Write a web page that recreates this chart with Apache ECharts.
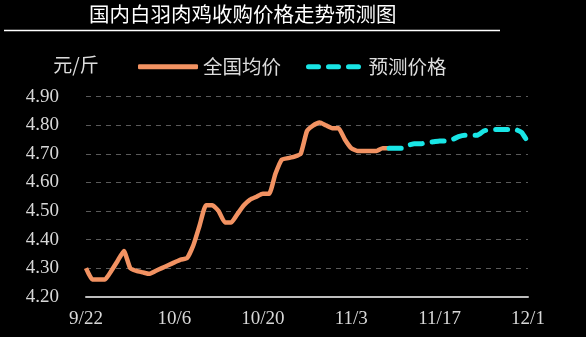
<!DOCTYPE html>
<html>
<head>
<meta charset="utf-8">
<script src="https://cdn.jsdelivr.net/npm/echarts@6/dist/echarts.min.js"></script>
<style>html,body{margin:0;padding:0;background:#000}#c{width:586px;height:337px}</style>
</head>
<body>
<div id="c"></div>
<script>
var categories = ["9/22","9/23","9/24","9/25","9/26","9/27","9/28","9/29","9/30",
"10/1","10/2","10/3","10/4","10/5","10/6","10/7","10/8","10/9","10/10","10/11","10/12","10/13","10/14","10/15","10/16","10/17","10/18","10/19","10/20","10/21","10/22","10/23","10/24","10/25","10/26","10/27","10/28","10/29","10/30","10/31",
"11/1","11/2","11/3","11/4","11/5","11/6","11/7","11/8","11/9","11/10","11/11","11/12","11/13","11/14","11/15","11/16","11/17","11/18","11/19","11/20","11/21","11/22","11/23","11/24","11/25","11/26","11/27","11/28","11/29","11/30","12/1"];
var actualValues = [4.30,4.26,4.26,4.26,4.29,4.325,4.36,4.30,4.29,4.285,4.28,4.29,4.30,4.31,4.32,4.33,4.335,4.38,4.45,4.52,4.52,4.50,4.46,4.46,4.49,4.52,4.54,4.55,4.56,4.56,4.63,4.68,4.685,4.69,4.70,4.78,4.80,4.81,4.80,4.79,4.79,4.75,4.72,4.71,4.71,4.71,4.71,4.72,4.72];
var forecastValues = [4.72,4.72,4.72,4.73,4.735,4.735,4.74,4.742,4.745,4.745,4.75,4.76,4.765,4.765,4.765,4.78,4.785,4.785,4.785,4.785,4.785,4.775,4.74];
var seriesNames = ["全国均价","预测价格"];
var titleText = "国内白羽肉鸡收购价格走势预测图";
var unitText = "元/斤";

var actualData = categories.map(function(c,i){ return i < actualValues.length ? actualValues[i] : null; });
var offset = categories.length - forecastValues.length;
var forecastData = categories.map(function(c,i){ return i >= offset ? forecastValues[i-offset] : null; });

var chart = echarts.init(document.getElementById('c'));
var serif = '"Liberation Serif", "DejaVu Serif", serif';
var cjk = '"Noto Sans CJK SC", sans-serif';
var dashIcon = 'path://M2.5,0h10a2.5,2.5 0 0 1 0,5h-10a2.5,2.5 0 0 1 0,-5z M22.5,0h10a2.5,2.5 0 0 1 0,5h-10a2.5,2.5 0 0 1 0,-5z M42.5,0h10a2.5,2.5 0 0 1 0,5h-10a2.5,2.5 0 0 1 0,-5z';
chart.setOption({
  backgroundColor: '#000',
  animation: false,
  title: {
    text: titleText, left: 84, top: -1,
    textStyle: {color: '#fff', fontSize: 20.5, fontWeight: 'normal', fontFamily: cjk}
  },
  graphic: [{
    type: 'line', shape: {x1: 4, y1: 30.5, x2: 500, y2: 30.5},
    style: {stroke: '#fff', lineWidth: 1.5}
  }],
  legend: {
    left: 133, top: 52, itemWidth: 60, itemHeight: 5, itemGap: 25,
    textStyle: {color: '#ddd', fontSize: 19.5, fontFamily: cjk},
    data: [
      {name: seriesNames[0], icon: 'roundRect'},
      {name: seriesNames[1], icon: dashIcon}
    ]
  },
  grid: {left: 86, right: 58, top: 96.7, bottom: 40.3, containLabel: false},
  xAxis: {
    type: 'category', data: categories, boundaryGap: false,
    axisLine: {lineStyle: {color: '#bdbdbd', width: 2}},
    axisTick: {show: false},
    axisLabel: {interval: 13, color: '#d8d8d8', fontSize: 19, fontFamily: serif, margin: 13},
    splitLine: {show: false}
  },
  yAxis: {
    type: 'value', min: 4.2, max: 4.9, interval: 0.1,
    name: unitText, nameLocation: 'end', nameGap: 22,
    nameTextStyle: {color: '#ddd', fontSize: 19, fontFamily: cjk, padding: [0, 20, 0, 0]},
    axisLine: {show: false}, axisTick: {show: false},
    axisLabel: {color: '#d8d8d8', fontSize: 19, fontFamily: serif, margin: 27,
      formatter: function(v){ return v.toFixed(2); }},
    splitLine: {lineStyle: {color: '#5a5a5a', type: [5, 5], width: 1}}
  },
  series: [{
    name: seriesNames[0], type: 'line', data: actualData, symbol: 'none', smooth: 0.15,
    itemStyle: {color: '#F29262'},
    lineStyle: {color: '#F29262', width: 4.5}
  }, {
    name: seriesNames[1], type: 'line', data: forecastData, symbol: 'none', smooth: 0.15,
    itemStyle: {color: '#19E6E6'},
    lineStyle: {color: '#19E6E6', width: 5, type: [12, 10], cap: 'round'}
  }]
});
</script>
</body>
</html>
